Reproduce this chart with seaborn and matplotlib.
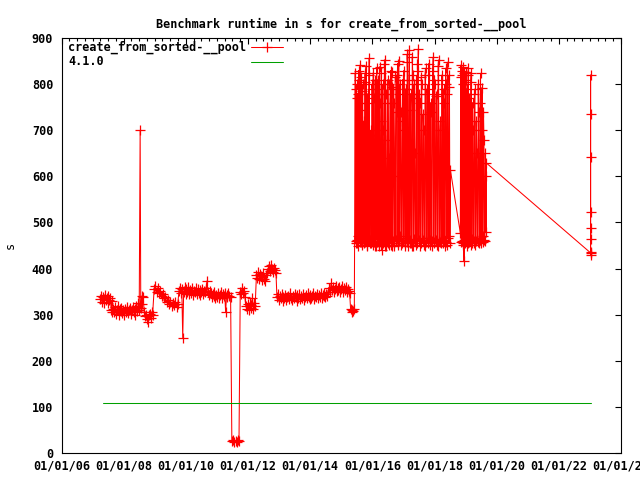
import matplotlib
matplotlib.use("Agg")
import matplotlib.pyplot as plt
import matplotlib.dates as mdates
import seaborn as sns
import numpy as np
import pandas as pd

# runtime samples (decimal year, seconds)
years_a = [2007.24, 2007.27, 2007.30, 2007.33, 2007.36, 2007.39, 2007.42, 2007.45, 2007.48, 2007.51,
           2007.54, 2007.57, 2007.60, 2007.62, 2007.64]
vals_a = [333, 341, 328, 338, 326, 343, 331, 337, 325, 340, 332, 336, 311, 330, 305]

years_b = [2007.66, 2007.69, 2007.72, 2007.75, 2007.78, 2007.81, 2007.84, 2007.87, 2007.90, 2007.93,
           2007.96, 2007.99, 2008.02, 2008.05, 2008.08, 2008.11, 2008.14, 2008.17, 2008.20, 2008.23,
           2008.26, 2008.29, 2008.32, 2008.35, 2008.38, 2008.41, 2008.44, 2008.47, 2008.50, 2008.53,
           2008.55, 2008.58, 2008.60, 2008.63]
vals_b = [312, 305, 316, 302, 310, 318, 300, 312, 307, 315, 304, 311, 299, 313, 306, 317, 303, 310, 314, 301,
          309, 316, 305, 312, 300, 318, 307, 325, 310, 700, 315, 340, 322, 338]

years_c = [2008.66, 2008.69, 2008.72, 2008.75, 2008.78, 2008.81, 2008.84, 2008.87, 2008.90, 2008.93]
vals_c = [305, 296, 300, 290, 283, 298, 302, 292, 306, 299]

years_d = [2008.98, 2009.02, 2009.06, 2009.10, 2009.14, 2009.18, 2009.22, 2009.26, 2009.30, 2009.34,
           2009.38, 2009.42, 2009.46, 2009.50, 2009.54, 2009.58, 2009.62, 2009.66, 2009.70, 2009.74]
vals_d = [355, 362, 350, 358, 347, 352, 341, 345, 335, 338, 328, 332, 322, 327, 318, 325, 320, 328, 317, 323]

years_e = [2009.78, 2009.81, 2009.84, 2009.87, 2009.90, 2009.93, 2009.96, 2009.99, 2010.02, 2010.05,
           2010.08, 2010.11, 2010.14, 2010.17, 2010.20, 2010.23, 2010.26, 2010.29, 2010.32, 2010.35,
           2010.38, 2010.41, 2010.44, 2010.47, 2010.50, 2010.53, 2010.56, 2010.59, 2010.62, 2010.65,
           2010.68, 2010.71, 2010.74, 2010.77, 2010.80, 2010.83, 2010.86, 2010.89, 2010.92, 2010.95,
           2010.98, 2011.01, 2011.04, 2011.07, 2011.10, 2011.13, 2011.16, 2011.19, 2011.22, 2011.25,
           2011.28, 2011.31, 2011.34, 2011.37, 2011.40, 2011.44]
vals_e = [352, 358, 346, 355, 250, 349, 360, 344, 356, 348, 359, 345, 353, 347, 357, 343, 352, 349, 358, 344,
          355, 346, 353, 342, 350, 356, 345, 352, 348, 357, 373, 350, 343, 352, 347, 338, 345, 340, 348, 336,
          343, 339, 346, 335, 342, 348, 337, 344, 340, 347, 305, 343, 339, 346, 341, 338]

years_f = [2011.48, 2011.52, 2011.56, 2011.60, 2011.64, 2011.68, 2011.71]
vals_f = [25, 28, 24, 26, 23, 27, 25]

years_g = [2011.75, 2011.78, 2011.81, 2011.84, 2011.87, 2011.90, 2011.93, 2011.96, 2011.99, 2012.02,
           2012.05, 2012.08, 2012.11, 2012.14, 2012.17, 2012.20, 2012.23, 2012.27, 2012.30, 2012.33,
           2012.36, 2012.39, 2012.42, 2012.45, 2012.48, 2012.51, 2012.55, 2012.58, 2012.61, 2012.64,
           2012.67, 2012.70, 2012.73, 2012.76, 2012.79, 2012.82, 2012.86, 2012.90]
vals_g = [350, 345, 358, 347, 352, 338, 318, 312, 322, 309, 325, 315, 320, 337, 313, 326, 318, 385, 380, 392,
          378, 388, 383, 375, 390, 378, 372, 385, 390, 398, 405, 395, 408, 400, 393, 402, 396, 390]

years_h = [2012.93, 2012.96, 2012.99, 2013.02, 2013.05, 2013.08, 2013.11, 2013.14, 2013.17, 2013.20,
           2013.23, 2013.26, 2013.29, 2013.32, 2013.35, 2013.38, 2013.41, 2013.44, 2013.47, 2013.50,
           2013.53, 2013.56, 2013.59, 2013.62, 2013.65, 2013.68, 2013.71, 2013.74, 2013.77, 2013.80,
           2013.83, 2013.86, 2013.89, 2013.92, 2013.95, 2013.98, 2014.01, 2014.04, 2014.07, 2014.10,
           2014.13, 2014.16, 2014.19, 2014.22, 2014.25, 2014.28, 2014.31, 2014.34, 2014.37, 2014.40,
           2014.43, 2014.46, 2014.49, 2014.52, 2014.55]
vals_h = [338, 345, 332, 340, 335, 344, 330, 339, 336, 343, 331, 338, 341, 333, 346, 337, 332, 340, 335, 344,
          338, 330, 342, 336, 345, 333, 340, 337, 344, 331, 339, 342, 335, 346, 338, 333, 343, 337, 340, 346,
          334, 341, 338, 345, 336, 342, 339, 347, 335, 343, 340, 346, 338, 344, 341]

years_i = [2014.58, 2014.61, 2014.64, 2014.67, 2014.70, 2014.73, 2014.76, 2014.79, 2014.82, 2014.85,
           2014.88, 2014.91, 2014.94, 2014.97, 2015.00, 2015.03, 2015.06, 2015.09, 2015.12, 2015.15,
           2015.18, 2015.21, 2015.24, 2015.27, 2015.30, 2015.33, 2015.36, 2015.39, 2015.42]
vals_i = [350, 357, 348, 368, 354, 360, 349, 356, 362, 351, 358, 353, 360, 348, 355, 362, 350, 357, 353, 360,
          348, 355, 351, 346, 312, 305, 310, 308, 312]

# first dense block 2015-2018
years_j = [2015.45, 2015.47, 2015.49, 2015.51, 2015.53, 2015.55, 2015.57, 2015.59, 2015.61, 2015.63,
           2015.65, 2015.67, 2015.69, 2015.71, 2015.73, 2015.75, 2015.77, 2015.79, 2015.81, 2015.83,
           2015.86, 2015.88, 2015.90, 2015.92, 2015.95, 2015.97, 2016.00, 2016.03, 2016.05, 2016.08,
           2016.10, 2016.13, 2016.15, 2016.18, 2016.20, 2016.23, 2016.25, 2016.28, 2016.30, 2016.33,
           2016.35, 2016.38, 2016.40, 2016.42, 2016.45, 2016.48, 2016.50, 2016.53, 2016.55, 2016.58,
           2016.60, 2016.62, 2016.64, 2016.67, 2016.70, 2016.72, 2016.75, 2016.78, 2016.81, 2016.83,
           2016.86, 2016.88, 2016.91, 2016.94, 2016.97, 2017.00, 2017.03, 2017.06, 2017.09, 2017.11,
           2017.13, 2017.16, 2017.19, 2017.21, 2017.24, 2017.27, 2017.30, 2017.33, 2017.36, 2017.39,
           2017.42, 2017.45, 2017.48, 2017.50, 2017.53, 2017.56, 2017.59, 2017.62, 2017.65, 2017.68,
           2017.71, 2017.74, 2017.77, 2017.80, 2017.83, 2017.86, 2017.89, 2017.92, 2017.96, 2017.98,
           2018.01, 2018.04, 2018.07, 2018.10, 2018.13, 2018.16, 2018.19, 2018.22, 2018.25, 2018.28,
           2018.31, 2018.34, 2018.37, 2018.40, 2018.42, 2018.45, 2018.48, 2018.51]
vals_j = [825, 460, 800, 455, 780, 470, 810, 458, 842, 462,
          760, 455, 800, 465, 720, 458, 825, 470, 650, 452,
          780, 460, 857, 462, 700, 455, 790, 825, 458, 560,
          450, 780, 465, 810, 448, 838, 460, 720, 440, 800,
          455, 780, 462, 853, 450, 680, 458, 800, 452, 760,
          465, 827, 448, 790, 455, 600, 460, 820, 845, 452,
          780, 470, 740, 455, 810, 460, 700, 450, 790, 458,
          848, 462, 875, 455, 780, 448, 820, 465, 650, 452,
          810, 845, 877, 460, 760, 455, 800, 462, 700, 450,
          835, 458, 780, 466, 820, 452, 740, 460, 859, 455,
          800, 462, 780, 450, 853, 458, 720, 465, 810, 455,
          760, 460, 800, 452, 848, 470, 795, 614]

years_j2 = [2015.46, 2015.48, 2015.50, 2015.52, 2015.54, 2015.56, 2015.58, 2015.60, 2015.62, 2015.64,
            2015.66, 2015.68, 2015.70, 2015.72, 2015.74, 2015.76, 2015.78, 2015.80, 2015.82, 2015.845,
            2015.87, 2015.89, 2015.91, 2015.935, 2015.96, 2015.985, 2016.015, 2016.04, 2016.065, 2016.09,
            2016.115, 2016.14, 2016.165, 2016.19, 2016.215, 2016.24, 2016.265, 2016.29, 2016.315, 2016.34,
            2016.365, 2016.39, 2016.41, 2016.435, 2016.465, 2016.49, 2016.515, 2016.54, 2016.565, 2016.59,
            2016.61, 2016.63, 2016.655, 2016.685, 2016.71, 2016.735, 2016.765, 2016.795, 2016.82, 2016.845,
            2016.87, 2016.895, 2016.925, 2016.955, 2016.985, 2017.015, 2017.045, 2017.075, 2017.10, 2017.12,
            2017.145, 2017.175, 2017.20, 2017.225, 2017.255, 2017.285, 2017.315, 2017.345, 2017.375, 2017.405,
            2017.435, 2017.465, 2017.49, 2017.515, 2017.545, 2017.575, 2017.605, 2017.635, 2017.665, 2017.695,
            2017.725, 2017.755, 2017.785, 2017.815, 2017.845, 2017.875, 2017.905, 2017.94, 2017.97, 2017.995,
            2018.025, 2018.055, 2018.085, 2018.115, 2018.145, 2018.175, 2018.205, 2018.235, 2018.265, 2018.295,
            2018.325, 2018.355, 2018.385, 2018.41, 2018.435, 2018.465, 2018.495]
vals_j2 = [455, 790, 462, 770, 450, 830, 466, 745, 458, 815,
           452, 785, 468, 700, 455, 805, 460, 840, 450, 760,
           463, 820, 455, 690, 470, 800, 452, 770, 460, 810,
           448, 835, 458, 790, 452, 760, 466, 825, 455, 700,
           460, 845, 450, 780, 462, 810, 455, 640, 468, 830,
           452, 795, 460, 760, 448, 815, 463, 740, 455, 850,
           460, 800, 452, 720, 466, 830, 455, 790, 460, 865,
           450, 810, 462, 745, 455, 860, 448, 800, 460, 770,
           455, 830, 462, 780, 450, 815, 466, 735, 452, 820,
           460, 790, 455, 845, 462, 760, 450, 830, 458, 810,
           465, 775, 452, 840, 460, 700, 455, 820, 462, 790,
           450, 835, 458, 780, 466, 820, 455]

# second dense block 2018-2019
years_k = [2018.83, 2018.85, 2018.87, 2018.89, 2018.91, 2018.93, 2018.95, 2018.97, 2018.99, 2019.01,
           2019.03, 2019.05, 2019.07, 2019.09, 2019.11, 2019.14, 2019.16, 2019.18, 2019.21, 2019.24,
           2019.27, 2019.30, 2019.33, 2019.36, 2019.39, 2019.42, 2019.45, 2019.48, 2019.50, 2019.53,
           2019.56, 2019.59, 2019.62, 2019.65, 2019.67]
vals_k = [477, 842, 460, 820, 455, 838, 416, 800, 458, 827,
          462, 780, 455, 835, 460, 760, 452, 825, 465, 700,
          455, 790, 460, 650, 458, 740, 462, 824, 455, 793,
          470, 680, 460, 600, 629]

years_k2 = [2018.84, 2018.86, 2018.88, 2018.90, 2018.92, 2018.94, 2018.96, 2018.98, 2019.00, 2019.02,
            2019.04, 2019.06, 2019.08, 2019.10, 2019.125, 2019.15, 2019.17, 2019.195, 2019.225, 2019.255,
            2019.285, 2019.315, 2019.345, 2019.375, 2019.405, 2019.435, 2019.465, 2019.49, 2019.515, 2019.545,
            2019.575, 2019.605, 2019.635, 2019.66]
vals_k2 = [815, 458, 830, 452, 800, 462, 825, 455, 810, 460,
           790, 450, 820, 458, 770, 462, 805, 455, 760, 460,
           780, 452, 720, 465, 800, 455, 760, 460, 700, 458,
           740, 462, 650, 480]

# last run, 2023
years_l = [2023.02, 2023.02, 2023.02, 2023.02, 2023.02, 2023.02, 2023.02, 2023.02, 2023.02]
vals_l = [434, 820, 464, 736, 430, 642, 488, 522, 436]

# reference version 4.1.0
ref_years = [2007.34, 2023.02]
ref_vals = [107, 107]

years = (years_a + years_b + years_c + years_d + years_e + years_f + years_g + years_h
         + years_i + years_j + years_j2 + years_k + years_k2 + years_l)
runtime = (vals_a + vals_b + vals_c + vals_d + vals_e + vals_f + vals_g + vals_h
           + vals_i + vals_j + vals_j2 + vals_k + vals_k2 + vals_l)


def to_dates(yrs):
    return pd.Timestamp("2006-01-01") + pd.to_timedelta((np.array(yrs) - 2006) * 365.25, unit="D")


df = pd.DataFrame({"year": years, "runtime": runtime}).sort_values("year", kind="stable")
df["date"] = to_dates(df["year"])

sns.set_style("white")
plt.rcParams["font.family"] = ["DejaVu Sans Mono"]
plt.rcParams["font.weight"] = "bold"
plt.rcParams["font.size"] = 8.5
plt.rcParams["text.color"] = "black"
plt.rcParams["axes.labelcolor"] = "black"
plt.rcParams["xtick.color"] = "black"
plt.rcParams["ytick.color"] = "black"

fig = plt.figure(figsize=(6.4, 4.8), dpi=100)
ax = fig.add_axes([61.5 / 640, 27.3 / 480, 559.5 / 640, 414.4 / 480])

sns.lineplot(data=df, x="date", y="runtime", color="red", lw=0.75, marker="+", markersize=7,
             markeredgewidth=0.9, markeredgecolor="red", estimator=None, sort=False, ax=ax)
sns.lineplot(x=to_dates(ref_years), y=ref_vals, color="#00a000", lw=0.75,
             estimator=None, sort=False, ax=ax)

ax.set_xlim(pd.Timestamp("2006-01-01"), pd.Timestamp("2024-01-01"))
ax.set_ylim(0, 900)
ax.set_yticks(np.arange(0, 901, 100))
ax.xaxis.set_major_locator(mdates.YearLocator(2))
ax.xaxis.set_minor_locator(mdates.MonthLocator(bymonth=[1, 4, 7, 10]))
ax.xaxis.set_major_formatter(mdates.DateFormatter("%m/%d/%y"))

ax.tick_params(which="both", direction="in", top=True, right=True, colors="black")
ax.tick_params(which="major", length=4, width=0.8)
ax.tick_params(which="minor", length=2, width=0.8)
ax.tick_params(axis="y", pad=6)
ax.tick_params(axis="x", pad=5)
for s in ax.spines.values():
    s.set_color("black")
    s.set_linewidth(0.8)

ax.set_title("Benchmark runtime in s for create_from_sorted-__pool", pad=7.5, fontsize=8.5,
             fontweight="bold", color="black")
ax.set_ylabel("s", labelpad=11)
ax.set_xlabel("")

# key in gnuplot style: labels left, samples on the right
ax.text(0.0116, 0.979, "create_from_sorted-__pool", transform=ax.transAxes, va="center", ha="left")
ax.text(0.0116, 0.943, "4.1.0", transform=ax.transAxes, va="center", ha="left")
ax.plot([0.339, 0.367, 0.396], [0.979, 0.979, 0.979], transform=ax.transAxes, color="red", lw=0.75,
        marker="+", markersize=7, markeredgewidth=0.9, markevery=[1])
ax.plot([0.339, 0.396], [0.943, 0.943], transform=ax.transAxes, color="#00a000", lw=0.75)

fig.savefig("out.png", dpi=100)
